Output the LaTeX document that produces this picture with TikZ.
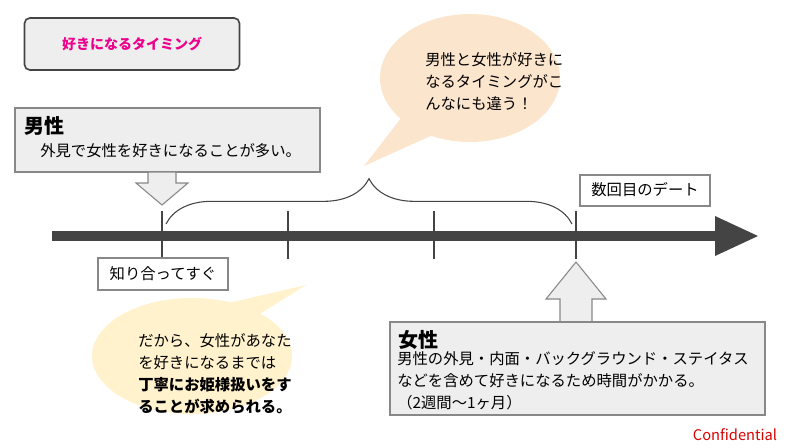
\documentclass[tikz,border=0pt]{standalone}
\usepackage{fontspec}
\setmainfont{Noto Sans CJK JP}
\usetikzlibrary{decorations.pathreplacing}
\definecolor{bx}{HTML}{EEEEEE}
\definecolor{bd}{HTML}{888888}
\definecolor{ln}{HTML}{444444}
\definecolor{peach}{HTML}{FCE5CD}
\definecolor{yel}{HTML}{FFF2CC}
\tikzset{box/.style={draw=bd,fill=bx,line width=0.8pt},
 txt/.style={font=\fontsize{11.5}{16.5}\selectfont,align=left,inner sep=0pt},
 tick/.style={draw=ln,line width=1.2pt}}
\begin{document}
\begin{tikzpicture}[x=0.75pt,y=-0.75pt]
\useasboundingbox (0,0) rectangle (800,447);
% title
\node[box,draw=ln,line width=1.2pt,rounded corners=4pt,minimum width=215*0.75pt,minimum height=52*0.75pt] (title) at (132,44) {};
\node[txt,text=magenta,font=\fontsize{10.5}{12}\selectfont\bfseries] (tt) at (title) {好きになるタイミング};
% male box
\draw[box] (15,108) rectangle (320,172);
\node[txt,anchor=west,font=\fontsize{15}{17}\bfseries] (m) at (24,126) {男性};
\node[txt,anchor=west] (mt) at (40,151) {外見で女性を好きになることが多い。};
% down arrow
\draw[box] (148,172) -- (176,172) -- (176,183) -- (188,183) -- (162,205) -- (136,183) -- (148,183) -- cycle;
% timeline
\coordinate (ts) at (52,236); \coordinate (te) at (718,236);
\draw[ln,line width=7pt] (ts) -- (te);
\fill[ln] (715,216) -- (758,236) -- (715,256) -- cycle;
\foreach \x/\n in {162/a,288/b,434/c,576/d}{
 \coordinate (\n1) at (\x,211); \coordinate (\n2) at (\x,259);
 \draw[tick] (\n1) -- (\n2);}
% brace
\coordinate (b1) at (166,224); \coordinate (b2) at (572,224);
\draw[ln,line width=0.8pt,decorate,decoration={brace,amplitude=34pt,aspect=0.5}] (b1) -- (b2);
% top bubble
\fill[peach] (415,100) -- (364,166) -- (455,125) -- cycle;
\fill[peach] (470,78) ellipse (90 and 64);
\node[txt,anchor=north west] (tb) at (425,52) {男性と女性が好きに\\なるタイミングがこ\\んなにも違う！};
% date boxes
\draw[box,fill=white] (580,175) rectangle (710,206);
\node[txt] (d1) at (645,190) {数回目のデート};
\draw[box,fill=white] (98,258) rectangle (228,290);
\node[txt] (d2) at (163,274) {知り合ってすぐ};
% up arrow
\draw[box] (576,262) -- (606,299) -- (592,299) -- (592,322) -- (560,322) -- (560,299) -- (546,299) -- cycle;
% female box
\draw[box] (390,322) rectangle (765,415);
\node[txt,anchor=west,font=\fontsize{15}{17}\bfseries] (f) at (398,340) {女性};
\node[txt,anchor=north west] (ft) at (397,351) {男性の外見・内面・バックグラウンド・ステイタス\\などを含めて好きになるため時間がかかる。\\（2週間〜1ヶ月）};
% yellow bubble
\fill[yel] (250,320) -- (306,285) -- (220,305) -- cycle;
\fill[yel] (192,356) ellipse (100 and 58);
\node[txt,anchor=north west] (yb) at (138,333) {だから、女性があなた\\を好きになるまでは\\\textbf{丁寧にお姫様扱いをす}\\\textbf{ることが求められる。}};
\node[txt,text=red!85!black,font=\fontsize{11}{12}\selectfont] (cf) at (735,435) {Confidential};
\end{tikzpicture}
\end{document}
